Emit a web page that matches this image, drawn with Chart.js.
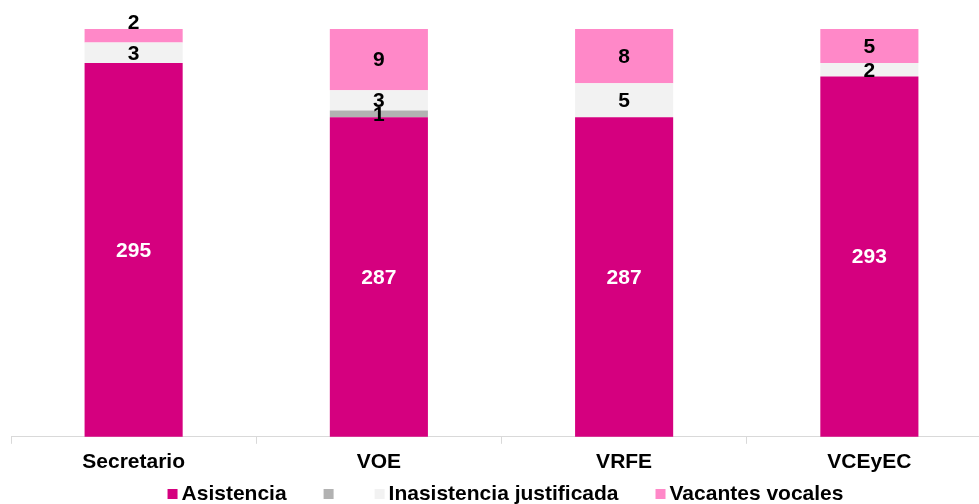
<!DOCTYPE html>
<html>
<head>
<meta charset="utf-8">
<script src="https://cdn.jsdelivr.net/npm/chart.js@4/dist/chart.umd.min.js"></script>
<style>
    html, body { margin: 0; padding: 0; background: #fff; overflow: hidden; }
    #wrap { width: 1000px; height: 504px; }
</style>
</head>
<body>
<div id="wrap"><canvas id="myBarChart" width="1000" height="504"></canvas></div>
<script>
const categories = ["Secretario", "VOE", "VRFE", "VCEyEC"];
const asistencia = [295, 287, 287, 293];
const inasistencia = [0, 1, 0, 0];
const justificada = [3, 3, 5, 2];
const vacantes = [2, 9, 8, 5];
const seriesNames = ["Asistencia", "", "Inasistencia justificada", "Vacantes vocales"];
const seriesColors = ["#D5007F", "#B2B2B2", "#F2F2F2", "#FF88C8"];

const FONT = "'Liberation Sans', Arial, sans-serif";

// labels centred in each segment, white on the magenta ones
const segmentLabels = {
    id: "segmentLabels",
    afterDatasetsDraw(chart) {
        const ctx = chart.ctx;
        const area = chart.chartArea;
        const last = chart.data.datasets.length - 1;
        ctx.save();
        ctx.font = "bold 21px " + FONT;
        ctx.textAlign = "center";
        ctx.textBaseline = "middle";
        chart.data.datasets.forEach((ds, di) => {
            const meta = chart.getDatasetMeta(di);
            meta.data.forEach((bar, i) => {
                const v = ds.data[i];
                if (!v) return;
                const top = Math.max(Math.min(bar.y, bar.base), area.top);
                const bottom = Math.min(Math.max(bar.y, bar.base), area.bottom);
                let y = (top + bottom) / 2;
                if (di === last && bottom - top < 16) {
                    y = top - 7;
                }
                ctx.fillStyle = di === 0 ? "#ffffff" : "#000000";
                ctx.fillText(String(v), bar.x, y + 1);
            });
        });
        ctx.restore();
    }
};

// legend drawn by hand so the spacing can match
const bottomLegend = {
    id: "bottomLegend",
    afterDraw(chart) {
        const ctx = chart.ctx;
        const area = chart.chartArea;
        const box = 10, gap = 4, space = 37;
        ctx.save();
        ctx.font = "bold 21px " + FONT;
        ctx.textBaseline = "middle";
        ctx.textAlign = "left";
        const items = chart.data.datasets.map(ds => ({
            text: ds.label,
            color: ds.backgroundColor,
            width: box + gap + ctx.measureText(ds.label).width
        }));
        const total = items.reduce((s, it) => s + it.width, 0) + space * (items.length - 1);
        let x = (area.left + area.right) / 2 - total / 2 + 4;
        const y = 494;
        items.forEach(it => {
            ctx.fillStyle = it.color;
            ctx.fillRect(x, y - 5, box, box);
            ctx.fillStyle = "#000000";
            if (it.text) ctx.fillText(it.text, x + box + gap, y);
            x += it.width + space;
        });
        ctx.restore();
    }
};

const ctx = document.getElementById("myBarChart");

const myBarChart = new Chart(ctx.getContext("2d"), {
    type: "bar",
    data: {
        labels: categories,
        datasets: [
            { label: seriesNames[0], data: asistencia, backgroundColor: seriesColors[0] },
            { label: seriesNames[1], data: inasistencia, backgroundColor: seriesColors[1] },
            { label: seriesNames[2], data: justificada, backgroundColor: seriesColors[2] },
            { label: seriesNames[3], data: vacantes, backgroundColor: seriesColors[3] }
        ]
    },
    options: {
        responsive: false,
        animation: false,
        devicePixelRatio: 1,
        datasets: {
            bar: {
                barPercentage: 0.4,
                categoryPercentage: 1,
                borderWidth: 0,
                clip: 0
            }
        },
        layout: {
            padding: { left: 11, right: 8, top: 29, bottom: 23 }
        },
        scales: {
            x: {
                stacked: true,
                grid: {
                    offset: true,
                    drawOnChartArea: false,
                    drawTicks: true,
                    tickLength: 7,
                    color: "#d9d9d9"
                },
                border: { color: "#d9d9d9", width: 1 },
                ticks: {
                    color: "#000000",
                    padding: 6,
                    font: { family: FONT, size: 21, weight: "bold" }
                }
            },
            y: {
                stacked: true,
                display: false,
                min: 240,
                max: 300
            }
        },
        plugins: {
            legend: { display: false },
            tooltip: { enabled: false }
        }
    },
    plugins: [segmentLabels, bottomLegend]
});
</script>
</body>
</html>
